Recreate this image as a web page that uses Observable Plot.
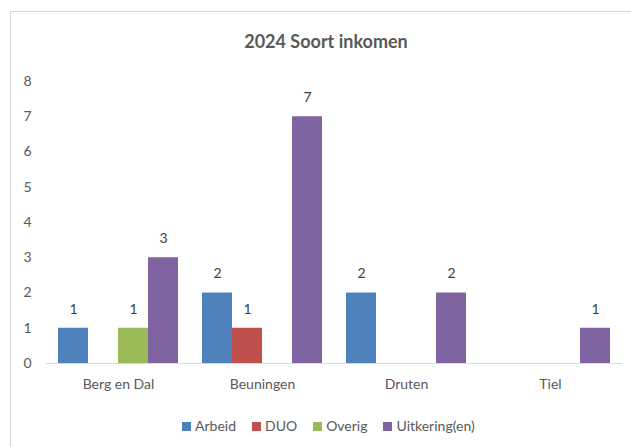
<!DOCTYPE html>
<html>
<head>
<meta charset="utf-8">
<script src="https://cdn.jsdelivr.net/npm/d3@7"></script>
<script src="https://cdn.jsdelivr.net/npm/@observablehq/plot@0.6"></script>
<style>
  html, body { margin: 0; padding: 0; background: #fff; overflow: hidden; }
  body { width: 631px; height: 447px; position: relative; font-family: Lato, "Open Sans", sans-serif; }
  #frame { position: absolute; left: 10px; top: 11px; width: 660px; height: 470px; border: 1px solid #d9d9d9; box-sizing: border-box; }
  #title { position: absolute; left: 0; top: 29px; width: 652px; text-align: center; font-weight: bold; font-size: 18px; color: #595959; line-height: 24px; }
  #chart { position: absolute; left: 0; top: 60px; }
  #legend { position: absolute; left: 182px; top: 417px; display: flex; align-items: center; font-size: 14px; color: #595959; line-height: 18px; }
  .item { display: flex; align-items: center; margin-right: 16px; }
  .sw { width: 9px; height: 9px; margin-right: 4px; }
</style>
</head>
<body>
<div id="frame"></div>
<div id="title">2024 Soort inkomen</div>
<div id="chart"></div>
<div id="legend"></div>
<script>
const categories = ["Berg en Dal", "Beuningen", "Druten", "Tiel"];
const series = ["Arbeid", "DUO", "Overig", "Uitkering(en)"];
const colors = ["#4F81BD", "#C0504D", "#9BBB59", "#8064A2"];
// values per series, per category (null = no bar)
const arbeid = [1, 2, 2, null];
const duo = [null, 1, null, null];
const overig = [1, null, null, null];
const uitkering = [3, 7, 2, 1];
const yTicks = [0, 1, 2, 3, 4, 5, 6, 7, 8];

const seriesValues = [arbeid, duo, overig, uitkering];
const data = [];
series.forEach((s, si) => {
  categories.forEach((c, ci) => {
    const v = seriesValues[si][ci];
    if (v != null) data.push({cat: c, series: s, value: v});
  });
});

const chart = Plot.plot({
  width: 631,
  height: 343,
  marginLeft: 44,
  marginRight: 8,
  marginTop: 21,
  marginBottom: 40,
  style: {fontFamily: "Lato, 'Open Sans', sans-serif", color: "#595959", background: "transparent", overflow: "visible"},
  fx: {domain: categories, padding: 0},
  x: {domain: series, paddingInner: 0, paddingOuter: 0.386, axis: null},
  y: {domain: [0, 8]},
  color: {domain: series, range: colors},
  marks: [
    Plot.axisY({ticks: yTicks, tickSize: 0, tickPadding: 15, fontSize: 14, label: null, tickFormat: d3.format("d")}),
    Plot.axisFx({anchor: "bottom", tickSize: 0, tickPadding: 16, fontSize: 14, label: null}),
    Plot.barY(data, {fx: "cat", x: "series", y: "value", fill: "series"}),
    Plot.ruleY([0], {stroke: "#d9d9d9", strokeWidth: 1}),
    Plot.text(data, {fx: "cat", x: "series", y: "value", text: d => String(d.value), dy: -19, fontSize: 14, fill: "#404040"})
  ]
});
document.getElementById("chart").appendChild(chart);

const legend = document.getElementById("legend");
series.forEach((s, i) => {
  const item = document.createElement("div");
  item.className = "item";
  const sw = document.createElement("div");
  sw.className = "sw";
  sw.style.background = colors[i];
  const t = document.createElement("span");
  t.textContent = s;
  item.appendChild(sw);
  item.appendChild(t);
  legend.appendChild(item);
});
</script>
</body>
</html>
